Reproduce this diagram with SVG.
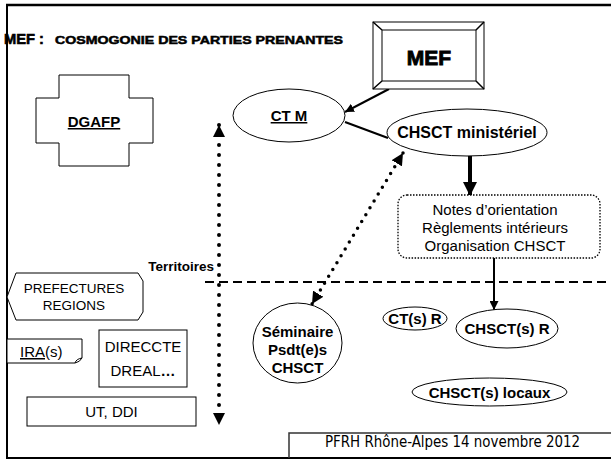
<svg xmlns="http://www.w3.org/2000/svg" width="611" height="461" viewBox="0 0 611 461">
<style>
text{font-family:"Liberation Sans",Arial,sans-serif;fill:#000}
.b{font-weight:bold}
.shape{fill:#fff;stroke:#000;stroke-width:1}
.c{text-anchor:middle}
.dot{fill:none;stroke:#000;stroke-linecap:round}
</style>
<defs>
<marker id="tri" viewBox="0 0 10 10" refX="10" refY="5" markerUnits="userSpaceOnUse" markerWidth="12" markerHeight="12" orient="auto-start-reverse"><path d="M0,0 L10,5 L0,10 z" fill="#000"/></marker>
<marker id="triS" viewBox="0 0 10 10" refX="10" refY="5" markerUnits="userSpaceOnUse" markerWidth="9" markerHeight="9" orient="auto"><path d="M0,0 L10,5 L0,10 z" fill="#000"/></marker>
<marker id="triB" viewBox="0 0 10 10" refX="10" refY="5" markerUnits="userSpaceOnUse" markerWidth="14" markerHeight="14" orient="auto"><path d="M0,0 L10,5 L0,10 z" fill="#000"/></marker>
</defs>

<g id="frame" fill="none" stroke="#000">
<path d="M6,5 H611" stroke-width="2.5"/>
<path d="M7,4 V459" stroke-width="2"/>
<path d="M6,458 H611" stroke-width="2"/>
</g>

<g id="title">
<text class="b" x="4" y="44" font-size="15" textLength="40" lengthAdjust="spacingAndGlyphs" stroke="#000" stroke-width="0.6">MEF :</text>
<text class="b" x="55" y="44" font-size="11" textLength="288" lengthAdjust="spacingAndGlyphs" stroke="#000" stroke-width="0.5">COSMOGONIE DES PARTIES PRENANTES</text>
</g>

<g id="connectors">
<path d="M389,89 L345,112" stroke="#000" stroke-width="2" fill="none" marker-end="url(#triS)"/>
<path d="M345,122 L388,138" stroke="#000" stroke-width="2" fill="none"/>
<path d="M470,156 L470,196" stroke="#000" stroke-width="4" fill="none" marker-end="url(#triB)"/>
<path d="M494,258 L494,310" stroke="#000" stroke-width="2" fill="none" marker-end="url(#triS)"/>
<path d="M205,282 H611" stroke="#000" stroke-width="2" stroke-dasharray="9 5" fill="none"/>
<path class="dot" d="M219,125 V425" stroke-width="4" stroke-dasharray="0 10" marker-start="url(#tri)" marker-end="url(#tri)"/>
<path class="dot" d="M403,153 L312,304" stroke-width="3.5" stroke-dasharray="0 8" marker-start="url(#tri)" marker-end="url(#tri)"/>
</g>

<g id="MEF">
<rect class="shape" x="373" y="22" width="111" height="67" stroke-width="1.5"/>
<rect class="shape" x="382" y="30" width="94" height="51" stroke-width="1.5"/>
<path d="M373,22 L382,30 M484,22 L476,30 M373,89 L382,81 M484,89 L476,81" stroke="#000" stroke-width="1.5"/>
<text class="b c" x="429" y="65" font-size="21" stroke="#000" stroke-width="0.9">MEF</text>
</g>

<g id="DGAFP">
<polygon class="shape" points="59,75 129,75 129,98 153,98 153,143 129,143 129,166 59,166 59,143 36,143 36,98 59,98"/>
<text class="b c" x="94" y="127" font-size="15" text-decoration="underline">DGAFP</text>
</g>

<g id="CTM">
<ellipse class="shape" cx="289" cy="115.5" rx="56" ry="26.5"/>
<text class="b c" x="289" y="121" font-size="15" text-decoration="underline">CT M</text>
</g>

<g id="CHSCTmin">
<ellipse class="shape" cx="467" cy="132.5" rx="80" ry="23.5"/>
<text class="b c" x="467" y="138" font-size="16">CHSCT ministériel</text>
</g>

<g id="notes">
<rect x="398" y="195" width="202" height="63" rx="9" fill="#fff" stroke="#000" stroke-width="1.3" stroke-dasharray="1.5 1.5"/>
<text class="c" x="495" y="215" font-size="15">Notes d’orientation</text>
<text class="c" x="495" y="233" font-size="15">Règlements intérieurs</text>
<text class="c" x="495" y="251" font-size="15">Organisation CHSCT</text>
</g>

<g id="territoires">
<text class="b" x="214" y="271" font-size="13.5" text-anchor="end">Territoires</text>
</g>

<g id="seminaire">
<ellipse class="shape" cx="297.5" cy="343" rx="44.5" ry="40"/>
<text class="b c" x="297.5" y="337" font-size="15">Séminaire</text>
<text class="b c" x="297.5" y="355" font-size="15">Psdt(e)s</text>
<text class="b c" x="297.5" y="373" font-size="15">CHSCT</text>
</g>

<g id="CTsR">
<ellipse class="shape" cx="415" cy="318.5" rx="32" ry="11.5"/>
<text class="b c" x="415" y="324" font-size="15">CT(s) R</text>
</g>

<g id="CHSCTsR">
<ellipse class="shape" cx="507" cy="328.5" rx="51" ry="19.5"/>
<text class="b c" x="507" y="334" font-size="15">CHSCT(s) R</text>
</g>

<g id="CHSCTlocaux">
<ellipse class="shape" cx="489.5" cy="392" rx="77.5" ry="14"/>
<text class="b c" x="489.5" y="397.5" font-size="15">CHSCT(s) locaux</text>
</g>

<g id="prefectures">
<polygon class="shape" points="16,273 138,273 143,281 143,312 138,320 16,320 7,297"/>
<text class="c" x="74" y="293" font-size="13.5">PREFECTURES</text>
<text class="c" x="74" y="310" font-size="13.5">REGIONS</text>
</g>

<g id="IRA">
<path class="shape" d="M7,339 H82 V358 Q80,362 75,363 H7 Z"/>
<path d="M75,363 Q76,359 82,358" fill="none" stroke="#000" stroke-width="1"/>
<text x="20" y="357" font-size="15"><tspan text-decoration="underline">IRA</tspan>(s)</text>
</g>

<g id="DIRECCTE">
<rect class="shape" x="99" y="330" width="88" height="57"/>
<text class="c" x="143" y="352" font-size="15">DIRECCTE</text>
<text class="c" x="143" y="376" font-size="15">DREAL<tspan class="b">…</tspan></text>
</g>

<g id="UTDDI">
<rect class="shape" x="27" y="397" width="169" height="29"/>
<text class="c" x="111.5" y="417" font-size="15">UT, DDI</text>
</g>

<g id="footer">
<path d="M289,458 V433 H611" fill="none" stroke="#333" stroke-width="1.5"/>
<text x="325" y="447" font-size="15" style="font-family:'DejaVu Sans Condensed','DejaVu Sans',sans-serif" textLength="255" lengthAdjust="spacingAndGlyphs">PFRH Rhône-Alpes 14 novembre 2012</text>
</g>
</svg>
